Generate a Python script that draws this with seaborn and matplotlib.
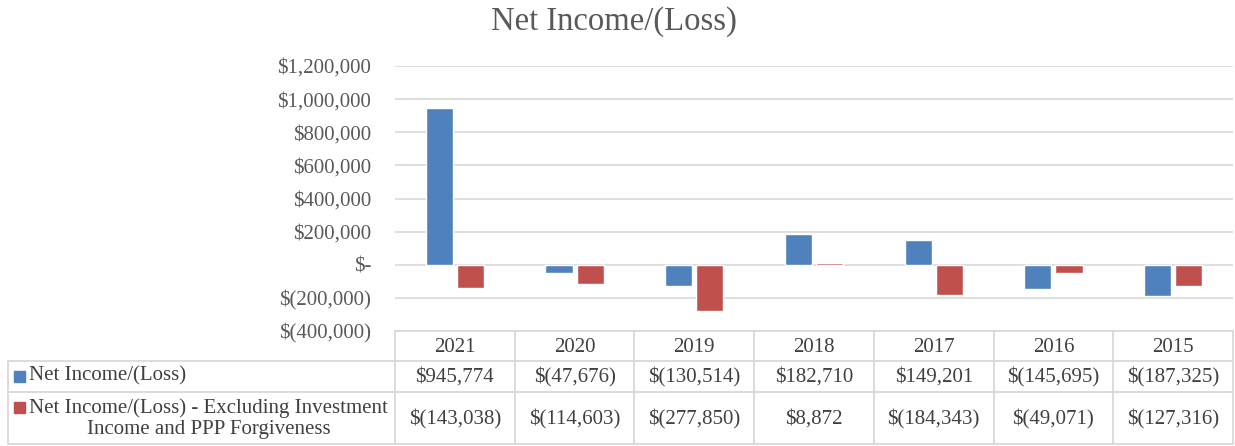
import pandas as pd
import matplotlib.pyplot as plt
import seaborn as sns

years = ['2021', '2020', '2019', '2018', '2017', '2016', '2015']
net_income = [945774, -47676, -130514, 182710, 149201, -145695, -187325]
net_income_excl = [-143038, -114603, -277850, 8872, -184343, -49071, -127316]
series_names = ['Net Income/(Loss)',
                'Net Income/(Loss) - Excluding Investment\nIncome and PPP Forgiveness']
yticks = [-400000, -200000, 0, 200000, 400000, 600000, 800000, 1000000, 1200000]
colors = ['#4F81BD', '#C0504D']


def money(v):
    if v == 0:
        return '$-'
    if v < 0:
        return '$({:,})'.format(-v)
    return '${:,}'.format(v)


df = pd.DataFrame({
    'year': years * 2,
    'value': net_income + net_income_excl,
    'series': [series_names[0]] * len(years) + [series_names[1]] * len(years),
})

sns.set_theme(style='white')
plt.rcParams['font.family'] = ['Liberation Serif', 'DejaVu Serif']
text_col = '#595959'
grid_col = '#d9d9d9'
fs = 15

W, H = 1235, 446
fig = plt.figure(figsize=(W / 100, H / 100), dpi=100)

# chart area
x0, x1 = 395, 1233
ax = fig.add_axes([x0 / W, 1 - 331 / H, (x1 - x0) / W, (331 - 66) / H])
sns.barplot(data=df, x='year', y='value', hue='series', order=years,
            hue_order=series_names, palette=colors, width=0.52, gap=0.13,
            saturation=1, legend=False, ax=ax)
ax.set_xlim(-0.5, len(years) - 0.5)
ax.set_ylim(-400000, 1200000)
ax.set_yticks(yticks)
ax.set_yticklabels([money(v) for v in yticks], fontsize=fs, color=text_col)
ax.set_xticks([])
ax.set_xlabel('')
ax.set_ylabel('')
ax.tick_params(axis='y', length=0, pad=17)
ax.grid(axis='y', color=grid_col, linewidth=1.2)
ax.set_axisbelow(True)
for s in ax.spines.values():
    s.set_visible(False)

fig.text(0.497, 1 - 22 / H, 'Net Income/(Loss)', ha='center', va='center',
         fontsize=23.5, color=text_col)

# data table underneath, drawn in pixel coordinates
tab = fig.add_axes([0, 0, 1, 1])
tab.set_xlim(0, W)
tab.set_ylim(H, 0)
tab.axis('off')
tab.patch.set_alpha(0)

col_w = (x1 - x0) / len(years)
rows = [331, 361, 392, 444]
lk = dict(color=grid_col, linewidth=1.3)
tab.plot([x0, x1], [rows[0], rows[0]], **lk)
for r in rows[1:]:
    tab.plot([8, x1], [r, r], **lk)
tab.plot([8, 8], [rows[1], rows[3]], **lk)
for i in range(len(years) + 1):
    xx = x0 + i * col_w
    tab.plot([xx, xx], [rows[0], rows[3]], **lk)

tcol = '#404040'
for i, y in enumerate(years):
    cx = x0 + (i + 0.5) * col_w
    tab.text(cx, (rows[0] + rows[1]) / 2 + 1, y, ha='center', va='center',
             fontsize=fs, color=tcol)
    tab.text(cx, (rows[1] + rows[2]) / 2 + 1, money(net_income[i]),
             ha='center', va='center', fontsize=fs, color=tcol)
    tab.text(cx, (rows[2] + rows[3]) / 2 + 1, money(net_income_excl[i]),
             ha='center', va='center', fontsize=fs, color=tcol)

# row labels with legend swatches
label_y = [376, 418.5]
swatch_y = [376, 407]
for j, name in enumerate(series_names):
    tab.add_patch(plt.Rectangle((14, swatch_y[j] - 5.5), 11, 11, color=colors[j]))
    tab.text(29, label_y[j], name, ha='left', va='center', multialignment='center',
             fontsize=fs, color=tcol, linespacing=1.12)

fig.savefig('out.png', dpi=100)
